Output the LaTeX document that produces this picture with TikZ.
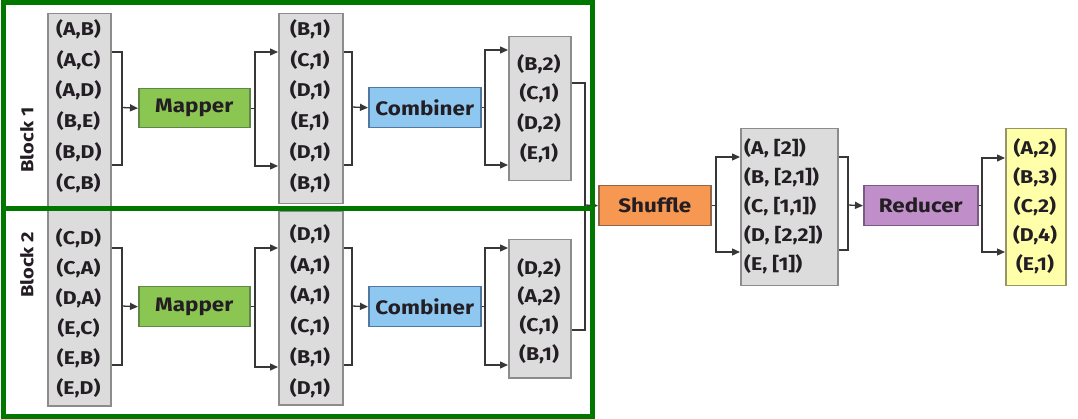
\documentclass[tikz,border=0pt]{standalone}
\usepackage{fontspec}
\setmainfont{Fira Sans}
\newfontfamily\dinfont{Fira Sans}[FakeStretch=1.15]
\usetikzlibrary{arrows.meta,calc}
\definecolor{frame}{RGB}{0,120,0}
\definecolor{listfill}{RGB}{220,220,220}
\definecolor{listdraw}{RGB}{140,140,140}
\definecolor{mapfill}{RGB}{140,198,82}
\definecolor{mapdraw}{RGB}{95,135,70}
\definecolor{comfill}{RGB}{142,200,240}
\definecolor{comdraw}{RGB}{80,120,160}
\definecolor{shufill}{RGB}{247,152,82}
\definecolor{shudraw}{RGB}{150,100,70}
\definecolor{redfill}{RGB}{192,142,200}
\definecolor{reddraw}{RGB}{120,90,130}
\definecolor{resfill}{RGB}{255,255,170}
\definecolor{resdraw}{RGB}{150,150,100}
\definecolor{ink}{RGB}{35,30,35}
\definecolor{wire}{RGB}{55,55,55}
\begin{document}
\begin{tikzpicture}[x=1pt,y=-1pt,
  listbox/.style={draw=listdraw,fill=listfill,line width=1.5pt,inner sep=0pt,anchor=north west},
  resbox/.style={draw=resdraw,fill=resfill,line width=1.5pt,inner sep=0pt,anchor=north west},
  proc/.style={line width=1.5pt,inner sep=0pt,anchor=north west},
  proclabel/.style={text=ink,font=\dinfont\bfseries\fontsize{19.5}{22}\selectfont},
  rows/.style={align=center,text=ink,inner sep=0pt,font=\dinfont\bfseries\fontsize{18.5}{#1}\selectfont},
  conn/.style={draw=wire,line width=1.3pt},
  arr/.style={conn,-{Triangle[length=8pt,width=7pt]}},
  blockframe/.style={draw=frame,line width=5pt},
  blocklabel/.style={rotate=90,text=ink,font=\dinfont\bfseries\fontsize{17.5}{20}\selectfont}]
\useasboundingbox (0,0) rectangle (1078,419);
\fill[white] (0,0) rectangle (1078,419);

% list boxes
\node[listbox,minimum width=63pt,minimum height=194pt] (in1) at (47,13) {};
\node[listbox,minimum width=63pt,minimum height=195pt] (in2) at (47,210) {};
\node[listbox,minimum width=64pt,minimum height=190pt] (k1) at (278,13) {};
\node[listbox,minimum width=64pt,minimum height=193pt] (k2) at (278,211) {};
\node[listbox,minimum width=62pt,minimum height=144pt] (o1) at (508,36) {};
\node[listbox,minimum width=62pt,minimum height=138pt] (o2) at (508,239) {};
\node[listbox,minimum width=97pt,minimum height=157pt] (g) at (740,128) {};
\node[resbox,minimum width=60pt,minimum height=157pt] (res) at (1005,128) {};

% list texts
\node[rows=30.8] (in1t) at (78.5,106) {(A,B)\\(A,C)\\(A,D)\\(B,E)\\(B,D)\\(C,B)};
\node[rows=30] (in2t) at (78.5,313) {(C,D)\\(C,A)\\(D,A)\\(E,C)\\(E,B)\\(E,D)};
\node[rows=30.8] (k1t) at (310,106) {(B,1)\\(C,1)\\(D,1)\\(E,1)\\(D,1)\\(B,1)};
\node[rows=30.8] (k2t) at (310,311) {(D,1)\\(A,1)\\(A,1)\\(C,1)\\(B,1)\\(D,1)};
\node[rows=29.7] (o1t) at (539,108.5) {(B,2)\\(C,1)\\(D,2)\\(E,1)};
\node[rows=28.7] (o2t) at (539,311) {(D,2)\\(A,2)\\(C,1)\\(B,1)};
\node[rows=29,align=left,anchor=west] (gt) at (744,206) {(A, [2])\\(B, [2,1])\\(C, [1,1])\\(D, [2,2])\\(E, [1])};
\node[rows=29] (rest) at (1035,206) {(A,2)\\(B,3)\\(C,2)\\(D,4)\\(E,1)};

% process boxes
\node[proc,draw=mapdraw,fill=mapfill,minimum width=111pt,minimum height=39pt] (m1) at (138,88) {};
\node[proc,draw=mapdraw,fill=mapfill,minimum width=111pt,minimum height=40pt] (m2) at (138,286) {};
\node[proc,draw=comdraw,fill=comfill,minimum width=112pt,minimum height=40pt] (c1) at (368,87) {};
\node[proc,draw=comdraw,fill=comfill,minimum width=112pt,minimum height=40pt] (c2) at (368,286) {};
\node[proc,draw=shudraw,fill=shufill,minimum width=112pt,minimum height=40pt] (sh) at (598,185) {};
\node[proc,draw=reddraw,fill=redfill,minimum width=114pt,minimum height=40pt] (rd) at (863,185) {};
\node[proclabel] (m1l) at (m1.center) {Mapper};
\node[proclabel] (m2l) at (m2.center) {Mapper};
\node[proclabel] (c1l) at (c1.center) {Combiner};
\node[proclabel] (c2l) at (c2.center) {Combiner};
\node[proclabel] (shl) at (sh.center) {Shuffle};
\node[proclabel] (rdl) at (rd.center) {Reducer};

% block 1 connectors
\draw[conn] (in1.east |- 0,52) -| (122,165) -- (in1.east |- 0,165);
\draw[arr] (122,107.5) -- (m1.west);
\draw[arr] (m1.east) -| (255,52) -- (k1.west |- 0,52);
\draw[arr] (m1.east) -| (255,166) -- (k1.west |- 0,166);
\draw[conn] (k1.east |- 0,52) -| (352,165) -- (k1.east |- 0,165);
\draw[arr] (352,107) -- (c1.west);
\draw[arr] (c1.east) -| (485,50) -- (o1.west |- 0,50);
\draw[arr] (c1.east) -| (485,165) -- (o1.west |- 0,165);

% block 2 connectors
\draw[conn] (in2.east |- 0,248) -| (122,365) -- (in2.east |- 0,365);
\draw[arr] (122,306) -- (m2.west);
\draw[arr] (m2.east) -| (255,248) -- (k2.west |- 0,248);
\draw[arr] (m2.east) -| (255,367) -- (k2.west |- 0,367);
\draw[conn] (k2.east |- 0,248) -| (352,365) -- (k2.east |- 0,365);
\draw[arr] (352,306) -- (c2.west);
\draw[arr] (c2.east) -| (485,248) -- (o2.west |- 0,248);
\draw[arr] (c2.east) -| (485,365) -- (o2.west |- 0,365);

% to shuffle
\draw[conn] (o1.east |- 0,83) -| (585,330) -- (o2.east |- 0,330);
\draw[arr] (585,205) -- (sh.west);
\draw[arr] (sh.east) -| (716,157) -- (g.west |- 0,157);
\draw[arr] (sh.east) -| (716,252) -- (g.west |- 0,252);
\draw[conn] (g.east |- 0,157) -| (848,250) -- (g.east |- 0,250);
\draw[arr] (848,205) -- (rd.west);
\draw[arr] (rd.east) -| (982,158) -- (res.west |- 0,158);
\draw[arr] (rd.east) -| (982,252) -- (res.west |- 0,252);

% block frames
\draw[blockframe] (3,3) rectangle (592,208.5);
\draw[blockframe] (3,208.5) rectangle (592,416);
\node[blocklabel] (b1) at (27,140) {Block 1};
\node[blocklabel] (b2) at (27,265) {Block 2};
\end{tikzpicture}
\end{document}
